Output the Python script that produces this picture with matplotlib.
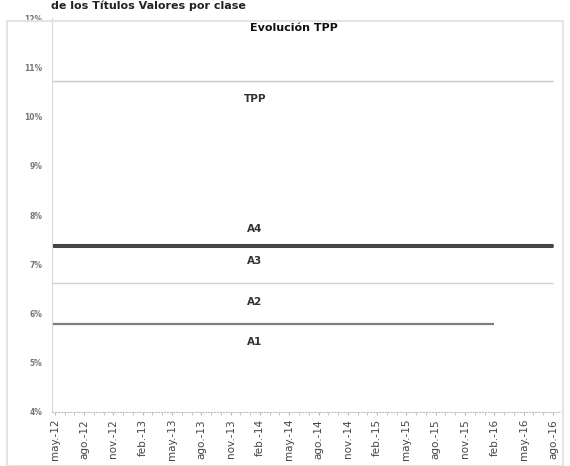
import matplotlib.pyplot as plt
from matplotlib.ticker import FixedLocator, MultipleLocator

# quarterly tick labels, month index 0 = may-12
tick_labels = ["may.-12", "ago.-12", "nov.-12", "feb.-13", "may.-13", "ago.-13",
               "nov.-13", "feb.-14", "may.-14", "ago.-14", "nov.-14", "feb.-15",
               "may.-15", "ago.-15", "nov.-15", "feb.-16", "may.-16", "ago.-16"]
tick_months = [3 * i for i in range(len(tick_labels))]

# series: name, first month, last month, rate (%)
series_names = ["TPP", "A4", "A3", "A2", "A1"]
series_start = [0, 0, 0, 0, 0]
series_end = [51, 51, 51, 51, 45]
series_rate = [10.72, 7.40, 7.37, 6.62, 5.79]
series_color = ["#c9c9c9", "#3f3f46", "#45454c", "#d2d2d2", "#7a7d88"]
series_width = [1.0, 2.2, 2.2, 1.0, 1.6]

# label positions (month, rate)
label_x = [20.5, 20.5, 20.5, 20.5, 20.5]
label_y = [10.35, 7.72, 7.07, 6.23, 5.42]

fig = plt.figure(figsize=(5.7, 4.66), dpi=100)
ax = fig.add_axes([0.091, 0.116, 0.891, 0.845])

for name, s, e, r, c, w in zip(series_names, series_start, series_end,
                               series_rate, series_color, series_width):
    ax.plot([s - 0.4, e], [r, r], color=c, linewidth=w, solid_capstyle="butt")

for name, x, y in zip(series_names, label_x, label_y):
    ax.text(x, y, name, ha="center", va="center", fontsize=7.5,
            fontweight="bold", color="#333333")

ax.text(24.5, 11.8, "Evolución TPP", ha="center", va="center", fontsize=8,
        fontweight="bold", color="#111111")

ax.set_xlim(-0.3, 51.7)
ax.set_ylim(4, 12)

ax.xaxis.set_major_locator(FixedLocator(tick_months))
ax.set_xticklabels(tick_labels, rotation=90, fontsize=7.5, color="#444444")
ax.xaxis.set_minor_locator(MultipleLocator(1))
ax.tick_params(axis="x", which="both", length=2, color="#bbbbbb", pad=3)

ax.set_yticks(range(4, 13))
ax.set_yticklabels([f"{v}%" for v in range(4, 13)], fontsize=5.5,
                   fontweight="bold", color="#777777")
ax.tick_params(axis="y", length=0, pad=7)

for side in ["top", "right"]:
    ax.spines[side].set_visible(False)
ax.spines["left"].set_color("#d8d8d8")
ax.spines["bottom"].set_color("#c0c0c0")
ax.spines["bottom"].set_linestyle(":")

fig.text(0.09, 0.999, "de los Títulos Valores por clase", ha="left", va="top",
         fontsize=8, fontweight="bold", color="#222222")

# light frame around the chart
frame = plt.Rectangle((0.012, 0.0), 0.975, 0.955, transform=fig.transFigure,
                      fill=False, edgecolor="#e4e4e4", linewidth=1.5)
fig.patches.append(frame)

fig.savefig("out.png", dpi=100)
